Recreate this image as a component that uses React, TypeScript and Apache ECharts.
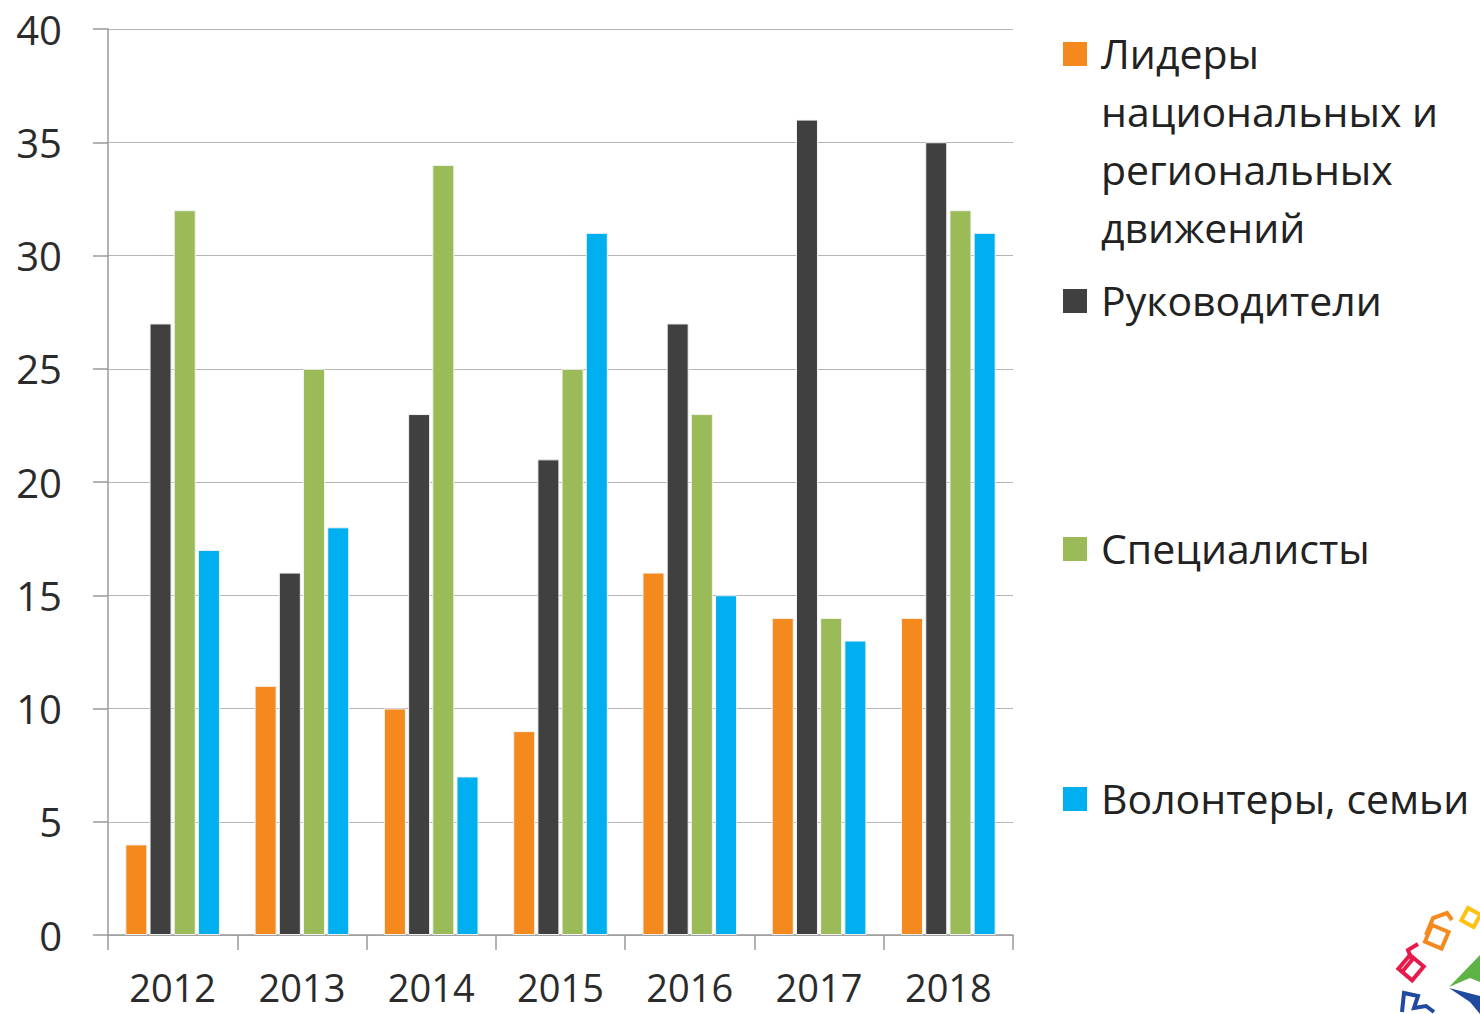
import React, { useEffect, useRef } from "react";
import * as echarts from "echarts";

const categories = ["2012", "2013", "2014", "2015", "2016", "2017", "2018"];
const seriesNames = [
  "Лидеры\nнациональных и\nрегиональных\nдвижений",
  "Руководители",
  "Специалисты",
  "Волонтеры, семьи",
];
const leaders = [4, 11, 10, 9, 16, 14, 14];
const managers = [27, 16, 23, 21, 27, 36, 35];
const specialists = [32, 25, 34, 25, 23, 14, 32];
const volunteers = [17, 18, 7, 31, 15, 13, 31];
const colors = ["#F4891E", "#404040", "#9BBB59", "#00AFEF"];
const yTicks = { min: 0, max: 40, interval: 5 };

const FONT = "'Open Sans', 'DejaVu Sans', sans-serif";

export default function App() {
  const ref = useRef<HTMLDivElement>(null);
  useEffect(() => {
    if (!ref.current) return;
    const chart = echarts.init(ref.current, undefined, { renderer: "svg" });
    const values = [leaders, managers, specialists, volunteers];
    const legendTops = [24, 271, 519, 769];
    const legendGraphics: any[] = [];
    seriesNames.forEach((name, i) => {
      legendGraphics.push({
        type: "rect",
        left: 1063,
        top: legendTops[i] + 18,
        shape: { width: 24, height: 24 },
        style: { fill: colors[i] },
      });
      legendGraphics.push({
        type: "text",
        left: 1101,
        top: legendTops[i],
        style: {
          text: name,
          font: `41px ${FONT}`,
          fill: "#222",
          lineHeight: 58,
        },
      });
    });
    const logo: any[] = [
      { type: "rect", x: 1468, y: 908, rotation: -0.5, shape: { width: 14, height: 14 }, style: { fill: "none", stroke: "#FFC20E", lineWidth: 4 } },
      { type: "rect", x: 1432, y: 925, rotation: -0.4, shape: { width: 18, height: 18 }, style: { fill: "none", stroke: "#F4891E", lineWidth: 4 } },
      { type: "polyline", shape: { points: [[1426, 935], [1433, 918], [1447, 913], [1452, 920]] }, style: { fill: "none", stroke: "#F4891E", lineWidth: 4 } },
      { type: "rect", x: 1410, y: 955, rotation: -0.7, shape: { width: 18, height: 18 }, style: { fill: "none", stroke: "#E8194B", lineWidth: 4 } },
      { type: "polyline", shape: { points: [[1402, 972], [1412, 960], [1408, 950], [1418, 944]] }, style: { fill: "none", stroke: "#E8194B", lineWidth: 4 } },
      { type: "polyline", shape: { points: [[1402, 1012], [1404, 993], [1418, 996], [1414, 1008], [1426, 1006], [1434, 1012]] }, style: { fill: "none", stroke: "#1F4AA0", lineWidth: 4 } },
      { type: "polygon", shape: { points: [[1449, 987], [1480, 955], [1480, 982], [1470, 978]] }, style: { fill: "#5DB345" } },
      { type: "polygon", shape: { points: [[1449, 988], [1480, 996], [1480, 1014], [1470, 1002]] }, style: { fill: "#1F4AA0" } },
    ];
    chart.setOption({
      animation: false,
      backgroundColor: "#ffffff",
      grid: { left: 108, top: 29, right: 467, bottom: 79, containLabel: false },
      xAxis: {
        type: "category",
        data: categories,
        boundaryGap: true,
        axisLine: { show: true, lineStyle: { color: "#9a9a9a", width: 1.5 } },
        axisTick: { show: true, length: 15, lineStyle: { color: "#9a9a9a", width: 1.5 } },
        axisLabel: { fontFamily: FONT, fontSize: 38, lineHeight: 32, color: "#2b2b2b", margin: 36 },
        splitLine: { show: false },
      },
      yAxis: {
        type: "value",
        min: yTicks.min,
        max: yTicks.max,
        interval: yTicks.interval,
        axisLine: { show: true, lineStyle: { color: "#9a9a9a", width: 1.5 } },
        axisTick: { show: true, length: 15, lineStyle: { color: "#9a9a9a", width: 1.5 } },
        axisLabel: { fontFamily: FONT, fontSize: 40, color: "#2b2b2b", margin: 46 },
        splitLine: { show: true, lineStyle: { color: "#b5b5b5", width: 1.2 } },
      },
      series: seriesNames.map((name, i) => ({
        name,
        type: "bar",
        data: values[i],
        barWidth: 22,
        barGap: "10%",
        itemStyle: { color: colors[i], borderColor: "#f2f2f2", borderWidth: 1 },
      })),
      graphic: [...legendGraphics, ...logo],
    });
    return () => chart.dispose();
  }, []);
  return (
    <div
      ref={ref}
      style={{ position: "fixed", left: 0, top: 0, width: 1480, height: 1014, background: "#fff" }}
    />
  );
}
